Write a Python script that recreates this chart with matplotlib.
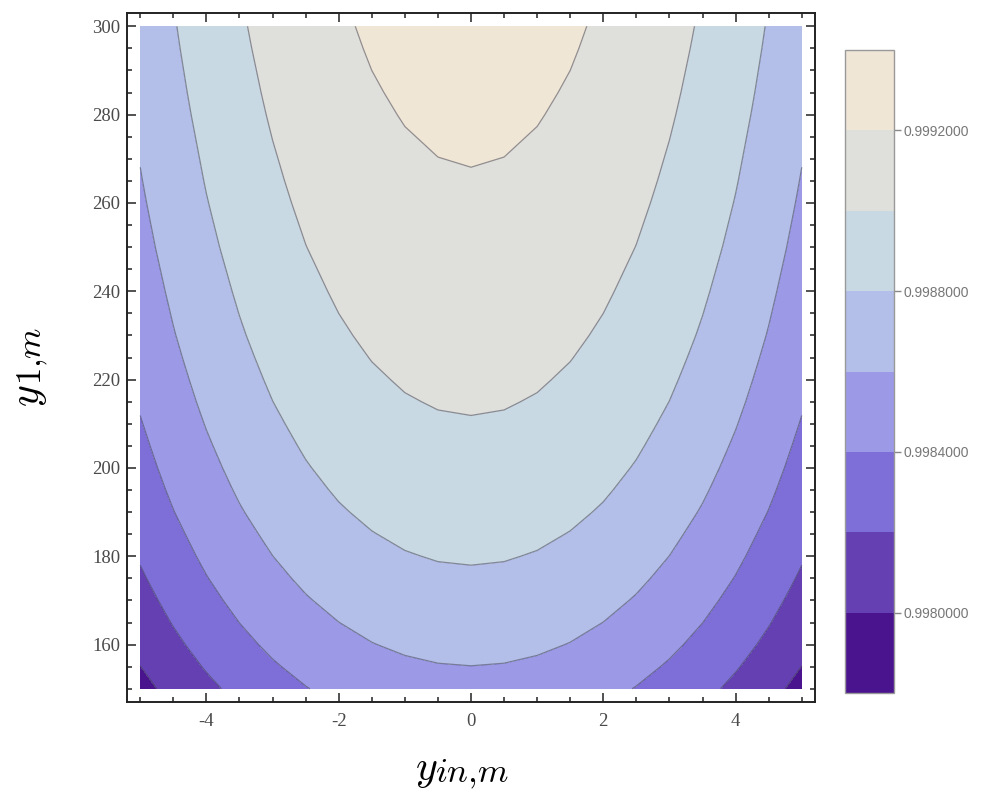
import numpy as np
import matplotlib
matplotlib.use("Agg")
import matplotlib.pyplot as plt
from matplotlib.ticker import MultipleLocator

# grid (right half, x >= 0; the plot is mirror symmetric)
x_half = [0.0, 0.5, 1.0, 1.5, 2.0, 2.5, 3.0, 3.5, 4.0, 4.5, 5.0]
y_vals = [150, 155, 160, 165, 170, 175, 180, 185, 190, 195, 200, 205, 210, 215, 220,
          225, 230, 235, 240, 245, 250, 255, 260, 265, 270, 275, 280, 285, 290, 295, 300]
z_half = [
    [0.998543, 0.998537, 0.998519, 0.998489, 0.998447, 0.998393, 0.998327, 0.998249, 0.998159, 0.998057, 0.997943],
    [0.998598, 0.998592, 0.998574, 0.998544, 0.998502, 0.998448, 0.998382, 0.998304, 0.998214, 0.998112, 0.997998],
    [0.998649, 0.998643, 0.998625, 0.998595, 0.998553, 0.998499, 0.998433, 0.998355, 0.998265, 0.998163, 0.998049],
    [0.998695, 0.998689, 0.998671, 0.998641, 0.998599, 0.998545, 0.998479, 0.998401, 0.998311, 0.998209, 0.998095],
    [0.998738, 0.998732, 0.998714, 0.998684, 0.998642, 0.998588, 0.998522, 0.998444, 0.998354, 0.998252, 0.998138],
    [0.998778, 0.998772, 0.998754, 0.998724, 0.998682, 0.998628, 0.998562, 0.998484, 0.998394, 0.998292, 0.998178],
    [0.998815, 0.998809, 0.998791, 0.998761, 0.998719, 0.998665, 0.998599, 0.998521, 0.998431, 0.998329, 0.998215],
    [0.998849, 0.998843, 0.998825, 0.998795, 0.998753, 0.998699, 0.998633, 0.998555, 0.998465, 0.998363, 0.998249],
    [0.998882, 0.998876, 0.998858, 0.998828, 0.998786, 0.998732, 0.998666, 0.998588, 0.998498, 0.998396, 0.998282],
    [0.998912, 0.998906, 0.998888, 0.998858, 0.998816, 0.998762, 0.998696, 0.998618, 0.998528, 0.998426, 0.998312],
    [0.998940, 0.998934, 0.998916, 0.998886, 0.998844, 0.998790, 0.998724, 0.998646, 0.998556, 0.998454, 0.998340],
    [0.998966, 0.998960, 0.998942, 0.998912, 0.998870, 0.998816, 0.998750, 0.998672, 0.998582, 0.998480, 0.998366],
    [0.998991, 0.998985, 0.998967, 0.998937, 0.998895, 0.998841, 0.998775, 0.998697, 0.998607, 0.998505, 0.998391],
    [0.999015, 0.999009, 0.998991, 0.998961, 0.998919, 0.998865, 0.998799, 0.998721, 0.998631, 0.998529, 0.998415],
    [0.999037, 0.999031, 0.999013, 0.998983, 0.998941, 0.998887, 0.998821, 0.998743, 0.998653, 0.998551, 0.998437],
    [0.999058, 0.999052, 0.999034, 0.999004, 0.998962, 0.998908, 0.998842, 0.998764, 0.998674, 0.998572, 0.998458],
    [0.999078, 0.999072, 0.999054, 0.999024, 0.998982, 0.998928, 0.998862, 0.998784, 0.998694, 0.998592, 0.998478],
    [0.999096, 0.999090, 0.999072, 0.999042, 0.999000, 0.998946, 0.998880, 0.998802, 0.998712, 0.998610, 0.998496],
    [0.999114, 0.999108, 0.999090, 0.999060, 0.999018, 0.998964, 0.998898, 0.998820, 0.998730, 0.998628, 0.998514],
    [0.999131, 0.999125, 0.999107, 0.999077, 0.999035, 0.998981, 0.998915, 0.998837, 0.998747, 0.998645, 0.998531],
    [0.999148, 0.999142, 0.999124, 0.999094, 0.999052, 0.998998, 0.998932, 0.998854, 0.998764, 0.998662, 0.998548],
    [0.999163, 0.999157, 0.999139, 0.999109, 0.999067, 0.999013, 0.998947, 0.998869, 0.998779, 0.998677, 0.998563],
    [0.999178, 0.999172, 0.999154, 0.999124, 0.999082, 0.999028, 0.998962, 0.998884, 0.998794, 0.998692, 0.998578],
    [0.999192, 0.999186, 0.999168, 0.999138, 0.999096, 0.999042, 0.998976, 0.998898, 0.998808, 0.998706, 0.998592],
    [0.999205, 0.999199, 0.999181, 0.999151, 0.999109, 0.999055, 0.998989, 0.998911, 0.998821, 0.998719, 0.998605],
    [0.999218, 0.999212, 0.999194, 0.999164, 0.999122, 0.999068, 0.999002, 0.998924, 0.998834, 0.998732, 0.998618],
    [0.999231, 0.999225, 0.999207, 0.999177, 0.999135, 0.999081, 0.999015, 0.998937, 0.998847, 0.998745, 0.998631],
    [0.999243, 0.999237, 0.999219, 0.999189, 0.999147, 0.999093, 0.999027, 0.998949, 0.998859, 0.998757, 0.998643],
    [0.999254, 0.999248, 0.999230, 0.999200, 0.999158, 0.999104, 0.999038, 0.998960, 0.998870, 0.998768, 0.998654],
    [0.999265, 0.999259, 0.999241, 0.999211, 0.999169, 0.999115, 0.999049, 0.998971, 0.998881, 0.998779, 0.998665],
    [0.999275, 0.999269, 0.999251, 0.999221, 0.999179, 0.999125, 0.999059, 0.998981, 0.998891, 0.998789, 0.998675],
]

levels = [0.9978, 0.9980, 0.9982, 0.9984, 0.9986, 0.9988, 0.9990, 0.9992, 0.9994]
band_colors = ["#4b148f", "#6540b2", "#7e6ed8", "#9c9ae7",
               "#b3bee9", "#c9d9e4", "#dfe0dc", "#f0e6d6"]
cbar_ticks = [0.9980, 0.9984, 0.9988, 0.9992]

# full grid
xh = np.array(x_half)
zh = np.array(z_half)
x_full = np.concatenate([-xh[:0:-1], xh])
z_full = np.hstack([zh[:, :0:-1], zh])

plt.rcParams["axes.unicode_minus"] = False
plt.rcParams["mathtext.fontset"] = "cm"

fig = plt.figure(figsize=(10, 7.98), dpi=100)
ax = fig.add_axes([0.127, 0.1203, 0.688, 0.8634])

cf = ax.contourf(x_full, y_vals, z_full, levels=levels, colors=band_colors)
ax.contour(x_full, y_vals, z_full, levels=levels[1:-1], colors="#444455",
           linewidths=0.9, alpha=0.55)

ax.set_xlim(-5.2, 5.2)
ax.set_ylim(147, 303)
ax.xaxis.set_minor_locator(MultipleLocator(0.5))
ax.yaxis.set_minor_locator(MultipleLocator(5))
ax.set_xticks([-4, -2, 0, 2, 4])
ax.set_yticks([160, 180, 200, 220, 240, 260, 280, 300])
ax.tick_params(which="both", direction="in", top=True, right=True, width=1.1, color="#222222")
ax.tick_params(which="major", length=6.5, labelsize=13.5, labelcolor="#4a4a4a", pad=5)
ax.tick_params(axis="x", which="major", pad=8)
ax.tick_params(which="minor", length=3.5)
for lab in ax.get_xticklabels() + ax.get_yticklabels():
    lab.set_family("Liberation Serif")
for sp in ax.spines.values():
    sp.set_linewidth(1.4)
    sp.set_color("#222222")

# axis labels: large italic symbol with a near full size subscript
fig.text(0.415, 0.0226, r"$y$", fontsize=30, ha="left", va="baseline")
fig.text(0.435, 0.020, r"$in{,}m$", fontsize=25, ha="left", va="baseline")
fig.text(0.039, 0.49, r"$y$", fontsize=30, ha="left", va="baseline",
         rotation=90, rotation_mode="anchor")
fig.text(0.041, 0.5175, r"$1{,}m$", fontsize=25, ha="left", va="baseline",
         rotation=90, rotation_mode="anchor")

cax = fig.add_axes([0.845, 0.1316, 0.049, 0.8057])
cbar = fig.colorbar(cf, cax=cax, ticks=cbar_ticks)
cbar.ax.set_yticklabels([f"{t:.7f}" for t in cbar_ticks])
cbar.outline.set_edgecolor("#999999")
cbar.outline.set_linewidth(1.0)
cbar.ax.tick_params(direction="out", length=5, width=1, color="#888888",
                    labelcolor="#777777", labelsize=10, pad=2)
for lab in cbar.ax.get_yticklabels():
    lab.set_family("Liberation Sans")

fig.savefig("out.png", dpi=100, facecolor="white")
